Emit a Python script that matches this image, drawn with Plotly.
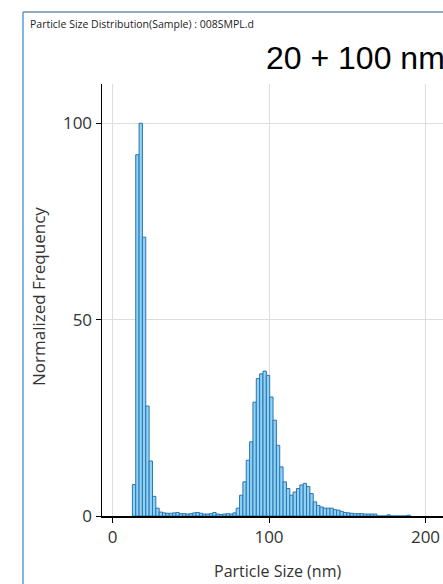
import plotly.graph_objects as go

# ---- data ----
bin_start_nm = 12.7
bin_width_nm = 2.14
frequency = [
    8, 92, 100, 71, 28, 14, 5, 2, 1.0, 0.8,
    0.7, 0.7, 0.8, 0.9, 0.6, 0.6, 0.5, 0.6, 0.8, 0.9,
    0.7, 0.5, 0.5, 0.6, 0.9, 0.5, 0.4, 0.5, 0.6, 0.5,
    0.8, 2.0, 5.3, 8.7, 14.2, 18.9, 29, 35, 36.2, 36.9,
    35.8, 30.3, 24.4, 18, 12.5, 8.7, 7, 5.3, 6.1, 7,
    7.9, 8.3, 7.5, 5.7, 3.6, 2.7, 2.3, 2.0, 2.0, 2.0,
    1.6, 1.5, 1.2, 0.9, 0.8, 0.7, 0.6, 0.6, 0.6, 0.5,
    0.5, 0.5, 0.5, 0, 0, 0, 0.3, 0, 0, 0,
    0, 0, 0.2,
]
x_ticks = [0, 100, 200]
y_ticks = [0, 50, 100]
window_title = "Particle Size Distribution(Sample) : 008SMPL.d"
label_text = "20 + 100 nm"
x_title = "Particle Size (nm)"
y_title = "Normalized Frequency"

bin_centers = [bin_start_nm + bin_width_nm * (i + 0.5) for i in range(len(frequency))]

# ---- layout geometry (pixels) ----
W, H = 443, 584
L, R, T, B = 102, 0, 84, 68
PW, PH = W - L - R, H - T - B


def px(x):
    return (x - L) / PW


def py(y):
    return (H - B - y) / PH


UI_FONT = "Segoe UI, Open Sans, sans-serif"

fig = go.Figure()
fig.add_trace(go.Bar(
    x=bin_centers,
    y=frequency,
    width=bin_width_nm,
    marker=dict(color="#8fd3f4", line=dict(color="#2a74b5", width=1)),
    hoverinfo="skip",
))

fig.update_layout(
    width=W, height=H,
    margin=dict(l=L, r=R, t=T, b=B),
    paper_bgcolor="white",
    plot_bgcolor="white",
    showlegend=False,
    bargap=0,
    font=dict(family=UI_FONT, color="#333333", size=14),
    xaxis=dict(
        range=[-6.71, 211.18],
        tickvals=x_ticks,
        ticks="outside", ticklen=5, tickcolor="#000000", tickwidth=1,
        showline=True, linecolor="#000000", linewidth=1.5,
        showgrid=True, gridcolor="#dddddd", gridwidth=1,
        zeroline=False,
        tickfont=dict(size=17, color="#333333"),
    ),
    yaxis=dict(
        range=[0, 110],
        tickvals=y_ticks,
        ticks="outside", ticklen=5, tickcolor="#000000", tickwidth=1,
        showline=True, linecolor="#000000", linewidth=1.5,
        showgrid=True, gridcolor="#dddddd", gridwidth=1,
        zeroline=False,
        tickfont=dict(size=17, color="#333333"),
    ),
    shapes=[
        dict(type="line", xref="paper", yref="paper",
             x0=px(23), x1=px(23), y0=py(12), y1=py(H),
             line=dict(color="#5b9bd5", width=1.5)),
        dict(type="line", xref="paper", yref="paper",
             x0=px(23), x1=px(W), y0=py(12), y1=py(12),
             line=dict(color="#6f8fae", width=1.5)),
    ],
    annotations=[
        dict(text=window_title, xref="paper", yref="paper",
             x=px(28), y=py(24), xanchor="left", yanchor="middle",
             showarrow=False, font=dict(family=UI_FONT, size=10.5, color="#222222")),
        dict(text=label_text, xref="paper", yref="paper",
             x=px(264), y=py(58), xanchor="left", yanchor="middle",
             showarrow=False, font=dict(family="Liberation Sans, Arial", size=32, color="#000000")),
        dict(text=x_title, xref="paper", yref="paper",
             x=px(277), y=py(571), xanchor="center", yanchor="middle",
             showarrow=False, font=dict(family=UI_FONT, size=16, color="#333333")),
        dict(text=y_title, xref="paper", yref="paper",
             x=px(38), y=py(297), xanchor="center", yanchor="middle", textangle=-90,
             showarrow=False, font=dict(family=UI_FONT, size=17, color="#333333")),
    ],
)

fig.write_html(
    "out.html",
    config={"displayModeBar": False, "staticPlot": True},
    post_script="document.body.style.margin='0';document.body.style.padding='0';document.body.style.overflow='hidden';",
)
